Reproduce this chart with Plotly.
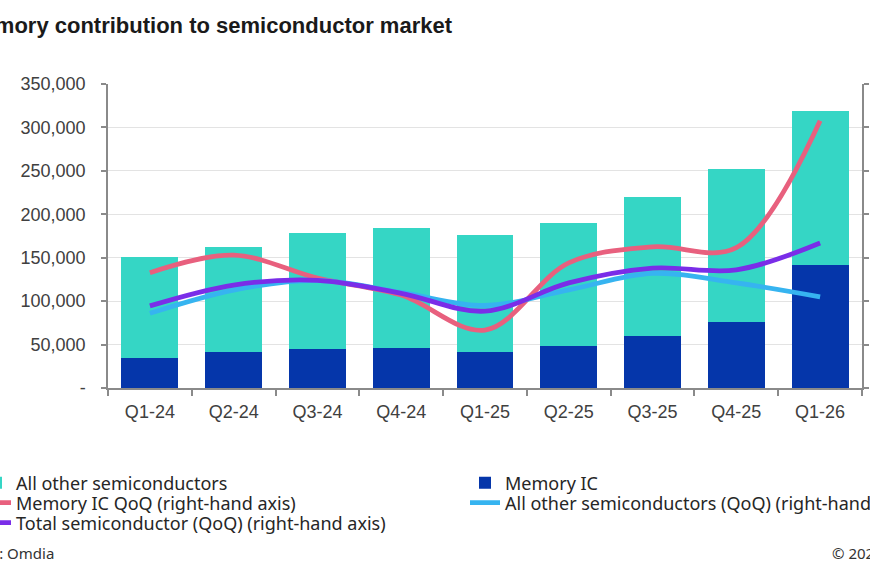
import plotly.graph_objects as go

quarters = ["Q1-24", "Q2-24", "Q3-24", "Q4-24", "Q1-25", "Q2-25", "Q3-25", "Q4-25", "Q1-26"]
total_market = [151000, 162000, 178000, 184000, 176000, 190000, 220000, 252000, 319000]
memory_ic = [34500, 41000, 45000, 46000, 41000, 48000, 60000, 76000, 141600]
other_semis = [t - m for t, m in zip(total_market, memory_ic)]

memory_qoq = [13.1, 21.2, 10.6, 2.8, -13.3, 17.6, 25.0, 24.6, 83.1]
other_qoq = [-5.6, 5.1, 9.6, 4.0, -2.0, 5.2, 12.8, 8.4, 2.0]
total_qoq = [-2.2, 7.4, 9.6, 3.6, -4.6, 8.4, 15.2, 14.4, 26.8]

left_tickvals = [0, 50000, 100000, 150000, 200000, 250000, 300000, 350000]
left_ticktext = ["-", "50,000", "100,000", "150,000", "200,000", "250,000", "300,000", "350,000"]
right_tickvals = [-40, -20, 0, 20, 40, 60, 80, 100]

W, H = 870, 570
ML, MR, MT, MB = 108, 8, 84, 182
PW, PH = W - ML - MR, H - MT - MB


def px_x(px):
    return (px - ML) / PW


def px_y(py):
    return (H - MB - py) / PH


FONT = "Liberation Sans, Arial, sans-serif"
LFONT = "Noto Sans, sans-serif"
AXIS_COL = "#8a8a8a"
TXT = "#404040"

fig = go.Figure()
fig.add_trace(go.Bar(x=quarters, y=memory_ic, name="Memory IC", marker_color="#0536AA",
                     marker_line_width=0, legend="legend2"))
fig.add_trace(go.Bar(x=quarters, y=other_semis, name="All other semiconductors", marker_color="#35D6C5",
                     marker_line_width=0, legend="legend"))
fig.add_trace(go.Scatter(x=quarters, y=memory_qoq, name="Memory IC QoQ (right-hand axis)", yaxis="y2",
                         mode="lines", line=dict(color="#E8607E", width=4.8, shape="spline", smoothing=1),
                         legend="legend3"))
fig.add_trace(go.Scatter(x=quarters, y=other_qoq, name="All other semiconductors (QoQ) (right-hand axis)",
                         yaxis="y2", mode="lines",
                         line=dict(color="#36B4F0", width=4.8, shape="spline", smoothing=1), legend="legend4"))
fig.add_trace(go.Scatter(x=quarters, y=total_qoq, name="Total semiconductor (QoQ) (right-hand axis)",
                         yaxis="y2", mode="lines",
                         line=dict(color="#7A2DE8", width=4.8, shape="spline", smoothing=1), legend="legend5"))


def leg(left_px, center_py):
    return dict(x=px_x(left_px), xanchor="left", y=px_y(center_py), yanchor="middle", orientation="v",
                font=dict(family=LFONT, size=18, color="#262626"), tracegroupgap=0,
                bgcolor="rgba(0,0,0,0)", traceorder="normal")


fig.update_layout(
    width=W, height=H,
    margin=dict(l=ML, r=MR, t=MT, b=MB, autoexpand=False),
    paper_bgcolor="white", plot_bgcolor="white",
    barmode="stack", bargap=0.32,
    font=dict(family=FONT, size=18, color=TXT),
    title=dict(text="<b>Memory contribution to semiconductor market</b>", xref="container", yref="container",
               x=452 / W, xanchor="right", y=1 - 25 / H, yanchor="middle",
               font=dict(family=FONT, size=22, color="#1a1a1a")),
    xaxis=dict(showline=True, linecolor=AXIS_COL, linewidth=1.5, ticks="outside", ticklen=6,
               tickcolor=AXIS_COL, tickwidth=1.5, tickson="boundaries", showgrid=False,
               tickfont=dict(size=18, color=TXT), ticklabelstandoff=7),
    yaxis=dict(range=[0, 350000], tickvals=left_tickvals, ticktext=left_ticktext, showline=True,
               linecolor=AXIS_COL, linewidth=1.5, ticks="outside", ticklen=5, tickcolor=AXIS_COL,
               tickwidth=1.5, showgrid=True, gridcolor="#e3e3e3", gridwidth=1, zeroline=False,
               tickfont=dict(size=18, color=TXT), ticklabelstandoff=12),
    yaxis2=dict(range=[-40, 100], tickvals=right_tickvals, overlaying="y", side="right", showline=True,
                linecolor=AXIS_COL, linewidth=1.5, ticks="outside", ticklen=5, tickcolor=AXIS_COL,
                tickwidth=1.5, showgrid=False, zeroline=False, showticklabels=False),
    legend=leg(-24, 483),
    legend3=leg(-24, 503),
    legend5=leg(-24, 523),
    legend2=leg(465, 483),
    legend4=leg(465, 503),
    showlegend=True,
    annotations=[
        dict(text="Source: Omdia", xref="paper", yref="paper", x=px_x(56), y=px_y(553),
             xanchor="right", yanchor="middle", showarrow=False,
             font=dict(family=LFONT, size=15, color="#333333")),
        dict(text="© 2026 Omdia", xref="paper", yref="paper", x=px_x(830), y=px_y(553),
             xanchor="left", yanchor="middle", showarrow=False,
             font=dict(family=LFONT, size=15, color="#333333")),
    ],
)

fig.write_html("out.html")
